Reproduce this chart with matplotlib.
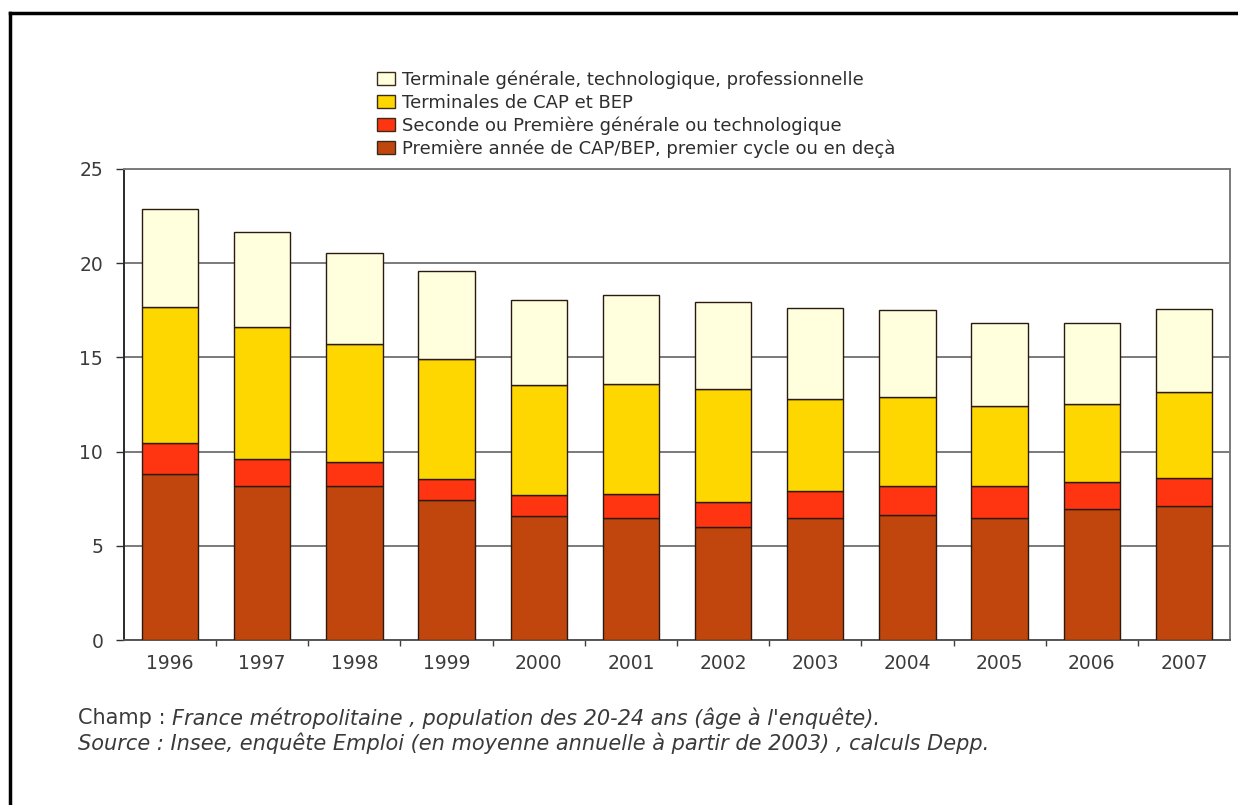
import matplotlib
matplotlib.use("Agg")
import matplotlib.pyplot as plt
from matplotlib.patches import Patch
from matplotlib.lines import Line2D
import numpy as np

years = ["1996", "1997", "1998", "1999", "2000", "2001",
         "2002", "2003", "2004", "2005", "2006", "2007"]

# Share of 20-24 year olds by highest class reached (%), stacked bottom to top
premiere_annee = [8.8, 8.15, 8.15, 7.45, 6.6, 6.5, 6.0, 6.5, 6.65, 6.5, 6.95, 7.1]
seconde_premiere = [1.65, 1.45, 1.3, 1.1, 1.1, 1.25, 1.3, 1.4, 1.55, 1.65, 1.45, 1.5]
terminales_cap = [7.25, 7.0, 6.25, 6.35, 5.85, 5.85, 6.0, 4.9, 4.7, 4.25, 4.1, 4.55]
terminale_gen = [5.2, 5.05, 4.85, 4.7, 4.5, 4.7, 4.65, 4.8, 4.6, 4.4, 4.35, 4.4]

series_labels = [
    "Première année de CAP/BEP, premier cycle ou en deçà",
    "Seconde ou Première générale ou technologique",
    "Terminales de CAP et BEP",
    "Terminale générale, technologique, professionnelle",
]
series_values = [premiere_annee, seconde_premiere, terminales_cap, terminale_gen]
series_colors = ["#C0460E", "#FF3410", "#FFD700", "#FFFFDE"]

y_ticks = [0, 5, 10, 15, 20, 25]

plt.rcParams["font.family"] = ["DejaVu Sans"]

fig = plt.figure(figsize=(12.38, 8.05), dpi=100)
ax = fig.add_axes([124 / 1238, 1 - 640 / 805, (1230 - 124) / 1238, (640 - 169) / 805])

x = np.arange(len(years))
bottom = np.zeros(len(years))
for vals, col in zip(series_values, series_colors):
    vals = np.array(vals)
    ax.bar(x, vals, width=0.61, bottom=bottom, color=col,
           edgecolor="#2a1a10", linewidth=1.0, zorder=3)
    bottom += vals

ax.set_xlim(-0.5, len(years) - 0.5)
ax.set_ylim(0, 25)
ax.set_yticks(y_ticks)
ax.set_yticklabels([str(t) for t in y_ticks])
ax.yaxis.grid(True, color="#7a7a7a", linewidth=1.4, zorder=0)
ax.set_axisbelow(True)

# category labels centred, separators as small ticks between categories
ax.set_xticks(x)
ax.set_xticklabels(years)
ax.set_xticks(np.arange(0.5, len(years) - 0.5, 1.0), minor=True)
ax.tick_params(axis="x", which="major", length=0, pad=10,
               labelsize=13.5, labelcolor="#3c3c3c")
ax.tick_params(axis="x", which="minor", length=4, width=1.0,
               color="#404040", direction="out")
ax.tick_params(axis="y", length=6, width=1.0, color="#303030", pad=9,
               labelsize=13.5, labelcolor="#3c3c3c")

for side in ("top", "right"):
    ax.spines[side].set_color("#7a7a7a")
    ax.spines[side].set_linewidth(1.4)
ax.spines["left"].set_color("#2a2a2a")
ax.spines["left"].set_linewidth(1.4)
ax.spines["bottom"].set_color("#555555")
ax.spines["bottom"].set_linewidth(1.4)

handles = [Patch(facecolor=c, edgecolor="#3a2a1a", linewidth=1.0)
           for c in series_colors]
fig.legend(handles[::-1], series_labels[::-1],
           loc="upper left", bbox_to_anchor=(364 / 1238, 1 - 58 / 805),
           frameon=False, fontsize=13, handlelength=1.0, handleheight=0.7,
           handletextpad=0.4, labelspacing=0.25, borderpad=0.2,
           labelcolor="#2e2e2e")

# notes under the chart
note_size = 15
champ = fig.text(78 / 1238, 1 - 718 / 805, "Champ : ", fontsize=note_size,
                 color="#3a3a3a", va="center", ha="left")
fig.canvas.draw()
champ_end = champ.get_window_extent().x1 / fig.bbox.width
fig.text(champ_end, 1 - 718 / 805,
         "France métropolitaine , population des 20-24 ans (âge à l'enquête).",
         fontsize=note_size, color="#3a3a3a", va="center", ha="left", style="italic")
fig.text(78 / 1238, 1 - 743 / 805,
         "Source : Insee, enquête Emploi (en moyenne annuelle à partir de 2003) , calculs Depp.",
         fontsize=note_size, color="#3a3a3a", va="center", ha="left", style="italic")

# frame lines along the left and top of the figure
fig.add_artist(Line2D([10 / 1238, 10 / 1238], [0, 1 - 13 / 805],
                      transform=fig.transFigure, color="black", linewidth=2.5))
fig.add_artist(Line2D([10 / 1238, 1], [1 - 13 / 805, 1 - 13 / 805],
                      transform=fig.transFigure, color="black", linewidth=2.5))

fig.savefig("out.png", dpi=100)
